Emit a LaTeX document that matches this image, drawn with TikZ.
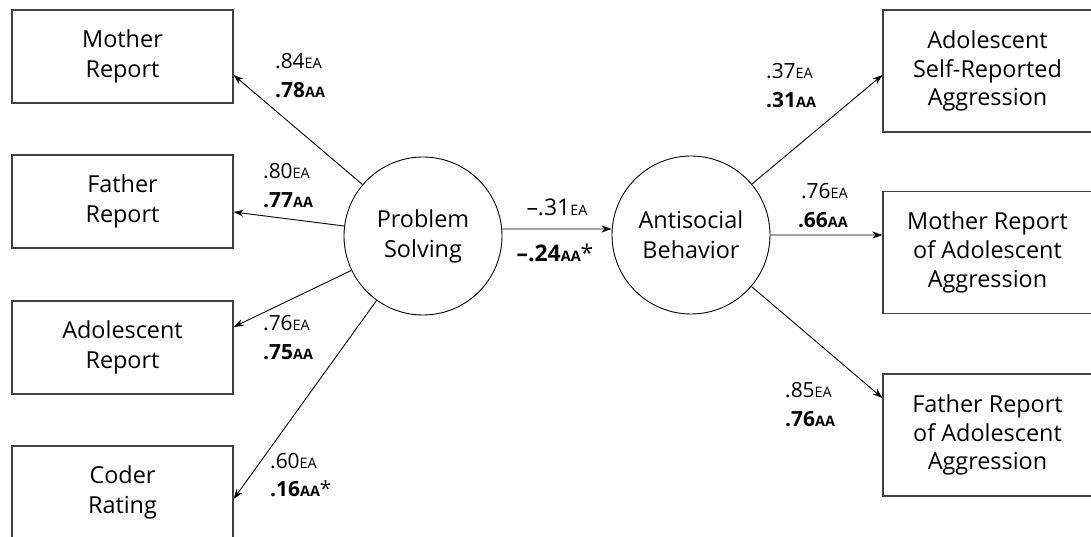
\documentclass[tikz,border=0pt]{standalone}
\usepackage{fontspec}
\setmainfont{Open Sans}
\usepackage{tikz}
\usetikzlibrary{arrows.meta}
\pgfdeclarelayer{edgelayer}
\pgfdeclarelayer{nodelayer}
\pgfsetlayers{edgelayer,nodelayer,main}
\tikzstyle{edge}=[draw=black, line width=0.9bp, -{Stealth[length=10bp, width=7bp]}]
\tikzstyle{measure}=[rectangle, draw=black!75, line width=1.2bp, fill=white, align=center, inner sep=0pt, minimum width=221bp, minimum height=93bp, font=\fontsize{23.5}{30}\selectfont]
\tikzstyle{outcome}=[measure, minimum width=209bp, minimum height=122bp, font=\fontsize{23.5}{29}\selectfont]
\tikzstyle{latent}=[circle, draw=black, line width=0.9bp, fill=white, align=center, inner sep=0pt, minimum size=158bp, font=\fontsize{23.5}{30}\selectfont]
\tikzstyle{coef}=[inner sep=0pt, font=\fontsize{21}{29}\selectfont]
\tikzstyle{pathcoef}=[coef, font=\fontsize{23}{29}\selectfont]
\newcommand{\eaval}[1]{#1{\fontsize{14.5}{14}\selectfont EA}}
\newcommand{\aaval}[1]{\textbf{#1{\fontsize{14.5}{14}\selectfont AA}}}

\begin{document}
\begin{tikzpicture}[x=1bp, y=-1bp]
				\clip (0,0) rectangle (1091,537);
				\begin{pgfonlayer}{nodelayer}
					\node [style=measure] (0) at (122.5, 56.5) {Mother\\Report};
					\node [style=measure] (1) at (122.5, 201.5) {Father\\Report};
					\node [style=measure] (2) at (122.5, 347.5) {Adolescent\\Report};
					\node [style=measure] (3) at (122.5, 492.5) {Coder\\Rating};
					\node [style=latent] (4) at (423, 236) {Problem\\Solving};
					\node [style=latent] (5) at (691, 235) {Antisocial\\Behavior};
					\node [style=outcome] (6) at (987.5, 71) {Adolescent\\Self-Reported\\Aggression};
					\node [style=outcome] (7) at (987.5, 252.5) {Mother Report\\of Adolescent\\Aggression};
					\node [style=outcome] (8) at (987.5, 435) {Father Report\\of Adolescent\\Aggression};
					\node [style=coef, anchor=west, align=left] (9) at (275, 76) {\eaval{.84}\\\aaval{.78}};
					\node [style=coef, anchor=west, align=left] (10) at (263, 186) {\eaval{.80}\\\aaval{.77}};
					\node [style=coef, anchor=west, align=left] (11) at (263, 338) {\eaval{.76}\\\aaval{.75}};
					\node [style=coef, anchor=west, align=left] (12) at (270, 475) {\eaval{.60}\\\aaval{.16}*};
					\node [style=pathcoef, anchor=base] (13) at (557, 216) {\eaval{–.31}};
					\node [style=pathcoef, anchor=base] (14) at (555, 262) {\aaval{–.24}*};
					\node [style=coef, anchor=west, align=left] (15) at (766, 86) {\eaval{.37}\\\aaval{.31}};
					\node [style=coef, anchor=east, align=right] (16) at (848, 206) {\eaval{.76}\\\aaval{.66}};
					\node [style=coef, anchor=west, align=left] (17) at (785, 405) {\eaval{.85}\\\aaval{.76}};
				\end{pgfonlayer}
				\begin{pgfonlayer}{edgelayer}
					\draw [style=edge] (4) to ([yshift=-18.5bp]0.east);
					\draw [style=edge] (4) to ([yshift=-10.5bp]1.east);
					\draw [style=edge] (4) to ([yshift=20.5bp]2.east);
					\draw [style=edge] (4) to ([yshift=-6.5bp]3.east);
					\draw [style=edge] ([yshift=7bp]4.east) to ([yshift=6bp]5.west);
					\draw [style=edge] (5) to ([yshift=-4bp]6.west);
					\draw [style=edge] (5) to ([yshift=17.5bp]7.west);
					\draw [style=edge] (5) to ([yshift=37bp]8.west);
				\end{pgfonlayer}
			\end{tikzpicture}
\end{document}
